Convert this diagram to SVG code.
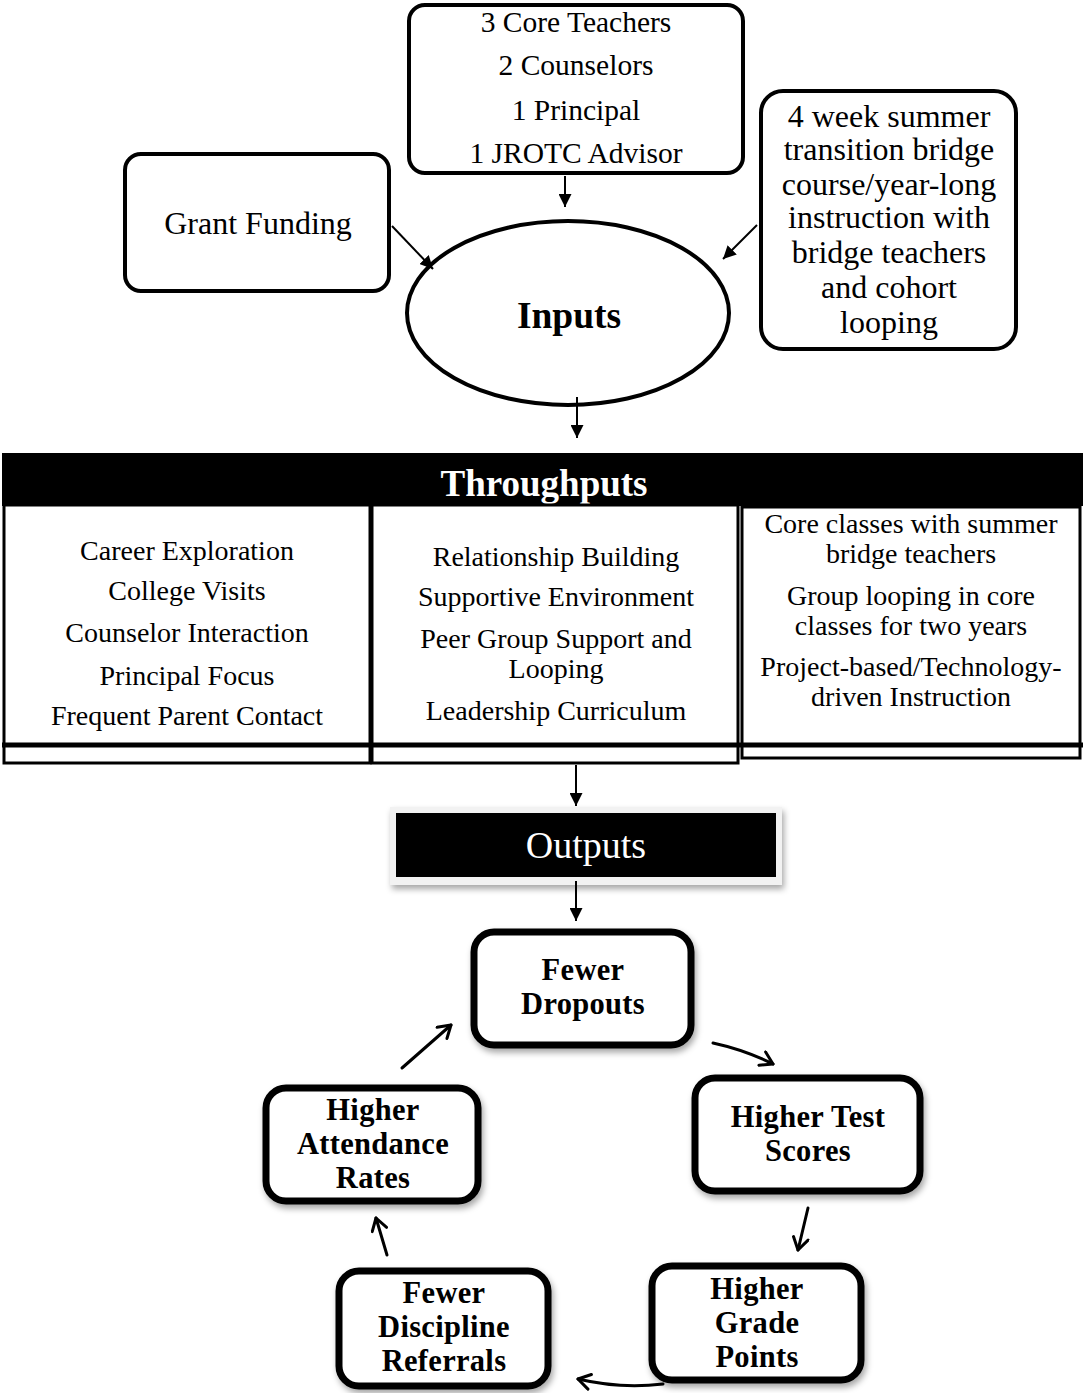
<svg xmlns="http://www.w3.org/2000/svg" width="1083" height="1393" viewBox="0 0 1083 1393">
<style>
.t{font-family:"Liberation Serif","Times New Roman",serif;fill:#000;text-anchor:middle}
.r27{font-size:29.5px}
.r29{font-size:32px}
.r25{font-size:28px}
.b30{font-size:30.5px;font-weight:bold;letter-spacing:0.3px}
.box{fill:#fff;stroke:#000;stroke-width:4}
.cyc{fill:#fff;stroke:#000;stroke-width:7}
.ln{stroke:#000;stroke-width:2;fill:none}
.cl{stroke:#000;stroke-width:3;fill:none;stroke-linecap:round}
.tb{stroke:#000;stroke-width:3;fill:none}
</style>
<defs>
<marker id="tri" viewBox="0 0 10 10" refX="10" refY="5" markerWidth="13" markerHeight="13" markerUnits="userSpaceOnUse" orient="auto">
<path d="M0,0 L10,5 L0,10 z" fill="#000"/>
</marker>
<marker id="chev" viewBox="0 0 12 12" refX="10" refY="6" markerWidth="18" markerHeight="18" markerUnits="userSpaceOnUse" orient="auto">
<path d="M2,1 L10,6 L2,11" fill="none" stroke="#000" stroke-width="2" stroke-linecap="round" stroke-linejoin="round"/>
</marker>
<filter id="sh" x="-10%" y="-10%" width="125%" height="130%">
<feDropShadow dx="2" dy="4" stdDeviation="3" flood-color="#000" flood-opacity="0.35"/>
</filter>
</defs>
<rect width="1083" height="1393" fill="#fff"/>

<g id="staff">
<rect class="box" x="409" y="5" width="334" height="168" rx="16"/>
<text class="t r27" x="576" y="32">3 Core Teachers</text>
<text class="t r27" x="576" y="75">2 Counselors</text>
<text class="t r27" x="576" y="120">1 Principal</text>
<text class="t r27" x="576" y="163">1 JROTC Advisor</text>
</g>

<g id="grant">
<rect class="box" x="125" y="154" width="264" height="137" rx="16"/>
<text class="t r29" x="258" y="234">Grant Funding</text>
</g>

<g id="summer">
<rect class="box" x="761" y="91" width="255" height="258" rx="22"/>
<text class="t r29" x="889" y="127">4 week summer</text>
<text class="t r29" x="889" y="160">transition bridge</text>
<text class="t r29" x="889" y="195">course/year-long</text>
<text class="t r29" x="889" y="228">instruction with</text>
<text class="t r29" x="889" y="263">bridge teachers</text>
<text class="t r29" x="889" y="298">and cohort</text>
<text class="t r29" x="889" y="333">looping</text>
</g>

<g id="inputs">
<ellipse class="box" cx="568" cy="313" rx="161" ry="92"/>
<text class="t" x="569" y="328" style="font-size:37.5px;font-weight:bold">Inputs</text>
</g>

<g id="throughputs">
<rect x="2" y="453" width="1081" height="53" fill="#000"/>
<text class="t" x="544" y="496" style="font-size:37px;font-weight:bold;fill:#fff">Throughputs</text>
<rect class="tb" x="4" y="505" width="366" height="258"/>
<rect class="tb" x="372" y="505" width="366" height="258"/>
<rect class="tb" x="742" y="507" width="338" height="251"/>
<line x1="2" y1="745" x2="1083" y2="745" stroke="#000" stroke-width="5"/>
<text class="t r25" x="187" y="560">Career Exploration</text>
<text class="t r25" x="187" y="600">College Visits</text>
<text class="t r25" x="187" y="642">Counselor Interaction</text>
<text class="t r25" x="187" y="685">Principal Focus</text>
<text class="t r25" x="187" y="725">Frequent Parent Contact</text>
<text class="t r25" x="556" y="566">Relationship Building</text>
<text class="t r25" x="556" y="606">Supportive Environment</text>
<text class="t r25" x="556" y="648">Peer Group Support and</text>
<text class="t r25" x="556" y="678">Looping</text>
<text class="t r25" x="556" y="720">Leadership Curriculum</text>
<text class="t r25" x="911" y="533">Core classes with summer</text>
<text class="t r25" x="911" y="563">bridge teachers</text>
<text class="t r25" x="911" y="605">Group looping in core</text>
<text class="t r25" x="911" y="635">classes for two years</text>
<text class="t r25" x="911" y="676">Project-based/Technology-</text>
<text class="t r25" x="911" y="706">driven Instruction</text>
</g>

<g id="outputs">
<rect x="390" y="807" width="392" height="78" fill="#f2f2f2" filter="url(#sh)"/>
<rect x="396" y="813" width="380" height="64" fill="#000"/>
<text class="t" x="586" y="858" style="font-size:38px;fill:#fff">Outputs</text>
</g>

<g id="dropouts">
<rect class="cyc" x="474" y="932" width="217" height="113" rx="20" filter="url(#sh)"/>
<text class="t b30" x="583" y="980">Fewer</text>
<text class="t b30" x="583" y="1014">Dropouts</text>
</g>

<g id="testscores">
<rect class="cyc" x="695" y="1078" width="225" height="113" rx="20" filter="url(#sh)"/>
<text class="t b30" x="808" y="1127">Higher Test</text>
<text class="t b30" x="808" y="1161">Scores</text>
</g>

<g id="gradepoints">
<rect class="cyc" x="652" y="1266" width="209" height="114" rx="20" filter="url(#sh)"/>
<text class="t b30" x="757" y="1299">Higher</text>
<text class="t b30" x="757" y="1333">Grade</text>
<text class="t b30" x="757" y="1367">Points</text>
</g>

<g id="discipline">
<rect class="cyc" x="339" y="1271" width="209" height="115" rx="20" filter="url(#sh)"/>
<text class="t b30" x="444" y="1303">Fewer</text>
<text class="t b30" x="444" y="1337">Discipline</text>
<text class="t b30" x="444" y="1371">Referrals</text>
</g>

<g id="attendance">
<rect class="cyc" x="266" y="1088" width="212" height="113" rx="20" filter="url(#sh)"/>
<text class="t b30" x="373" y="1120">Higher</text>
<text class="t b30" x="373" y="1154">Attendance</text>
<text class="t b30" x="373" y="1188">Rates</text>
</g>

<g id="connectors">
<line class="ln" x1="565" y1="176" x2="565" y2="207" marker-end="url(#tri)"/>
<line class="ln" x1="392" y1="226" x2="433" y2="269" marker-end="url(#tri)"/>
<line class="ln" x1="757" y1="225" x2="723" y2="259" marker-end="url(#tri)"/>
<line class="ln" x1="577" y1="397" x2="577" y2="438" marker-end="url(#tri)"/>
<line class="ln" x1="576" y1="765" x2="576" y2="806" marker-end="url(#tri)"/>
<line class="ln" x1="576" y1="881" x2="576" y2="921" marker-end="url(#tri)"/>
<path class="cl" d="M713,1043 Q745,1050 773,1064" marker-end="url(#chev)"/>
<path class="cl" d="M808,1208 L798,1250" marker-end="url(#chev)"/>
<path class="cl" d="M663,1384 Q620,1389 578,1379" marker-end="url(#chev)"/>
<path class="cl" d="M387,1255 L376,1218" marker-end="url(#chev)"/>
<path class="cl" d="M402,1068 L451,1025" marker-end="url(#chev)"/>
</g>
</svg>
